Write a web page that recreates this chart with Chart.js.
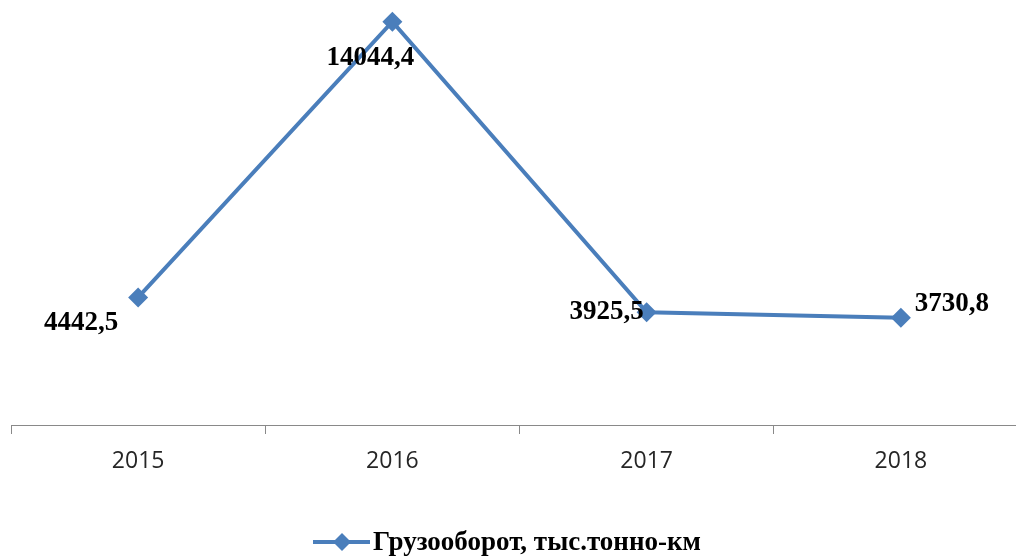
<!DOCTYPE html>
<html>
<head>
<meta charset="utf-8">
<script src="https://cdn.jsdelivr.net/npm/chart.js@4/dist/chart.umd.min.js"></script>
<style>
  html, body { margin: 0; padding: 0; background: #fff; overflow: hidden; }
  #wrap { width: 1038px; height: 556px; }
</style>
</head>
<body>
<div id="wrap"><canvas id="c" width="1038" height="556"></canvas></div>
<script>
const years = ['2015', '2016', '2017', '2018']
const cargoTurnover = [4442.5, 14044.4, 3925.5, 3730.8]
const seriesName = 'Грузооборот, тыс.тонно-км'

const blue = '#4a7ebb'

// где рисовать подписи относительно точки (dx, dy)
const labelShift = [[-57, 26], [-22, 36], [-40, 0], [51, -14]]

function fmt(v) {
  return v.toFixed(1).replace('.', ',')
}

const valueLabels = {
  id: 'valueLabels',
  afterDatasetsDraw(chart) {
    const ctx = chart.ctx
    const meta = chart.getDatasetMeta(0)
    ctx.save()
    ctx.font = 'bold 27px "Liberation Serif"'
    ctx.fillStyle = '#000'
    ctx.textAlign = 'center'
    ctx.textBaseline = 'middle'
    meta.data.forEach((pt, i) => {
      const [dx, dy] = labelShift[i]
      ctx.fillText(fmt(cargoTurnover[i]), pt.x + dx, pt.y + dy)
    })
    ctx.restore()
  }
}

// легенда снизу: линия с ромбом + подпись (как в Excel)
const bottomLegend = {
  id: 'bottomLegend',
  afterDraw(chart) {
    const ctx = chart.ctx
    const ds = chart.data.datasets[0]
    const y = chart.height - 13
    const x0 = 313
    ctx.save()
    ctx.strokeStyle = ds.borderColor
    ctx.lineWidth = 4
    ctx.beginPath(); ctx.moveTo(x0, y - 1); ctx.lineTo(x0 + 57, y - 1); ctx.stroke()
    ctx.fillStyle = ds.backgroundColor
    ctx.beginPath()
    ctx.moveTo(x0 + 29, y - 10); ctx.lineTo(x0 + 38, y - 1); ctx.lineTo(x0 + 29, y + 8); ctx.lineTo(x0 + 20, y - 1)
    ctx.closePath(); ctx.fill()
    ctx.font = 'bold 27px "Liberation Serif"'
    ctx.fillStyle = '#000'
    ctx.textAlign = 'left'
    ctx.textBaseline = 'middle'
    ctx.fillText(ds.label, x0 + 60, y)
    ctx.restore()
  }
}

new Chart(document.getElementById('c'), {
  type: 'line',
  data: {
    labels: years,
    datasets: [{
      label: seriesName,
      data: cargoTurnover,
      borderColor: blue,
      backgroundColor: blue,
      borderWidth: 4,
      tension: 0,
      pointStyle: 'rectRot',
      pointRadius: 10,
      pointHoverRadius: 10,
      pointBorderWidth: 0,
      clip: false
    }]
  },
  options: {
    responsive: false,
    animation: false,
    layout: { padding: { left: 11, right: 0, top: 0, bottom: 27 } },
    plugins: {
      tooltip: { enabled: false },
      legend: { display: false }
    },
    scales: {
      x: {
        offset: true,
        grid: {
          offset: true,
          drawOnChartArea: false,
          tickLength: 9,
          color: '#898989'
        },
        border: { color: '#898989', width: 1 },
        ticks: {
          color: '#262626',
          padding: 14,
          font: { family: '"Open Sans"', size: 23 }
        },
        afterFit(scale) {
          scale.height = 104 // место под легенду
        }
      },
      y: {
        display: false,
        min: 0,
        max: 14450
      }
    }
  },
  plugins: [valueLabels, bottomLegend]
})
</script>
</body>
</html>
